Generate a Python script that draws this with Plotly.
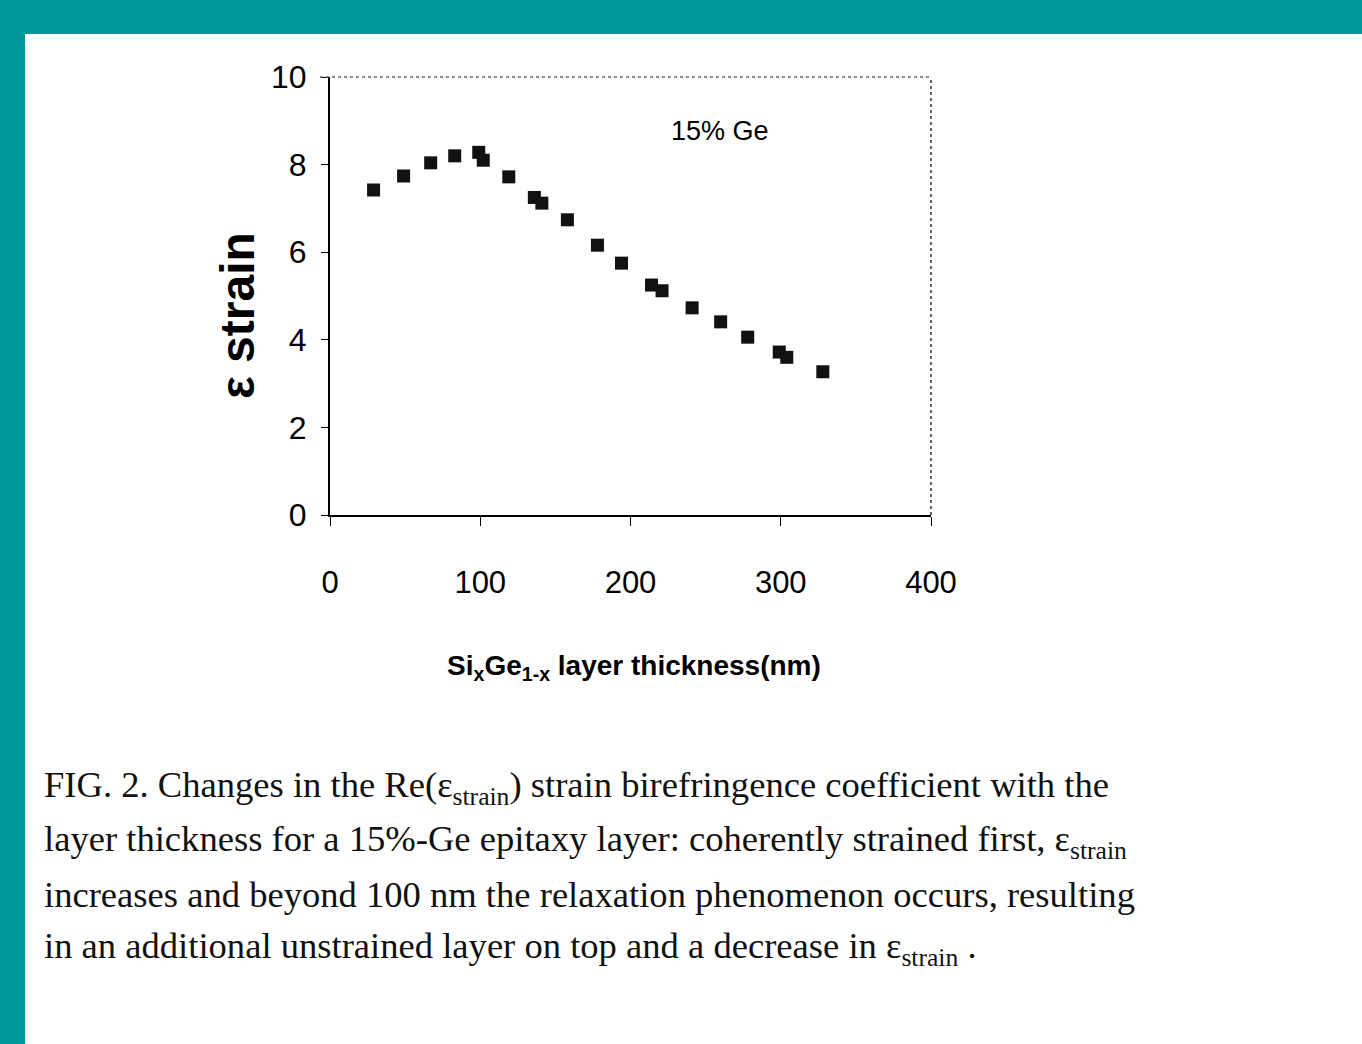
import plotly.graph_objects as go

# Data
thickness_nm = [29, 49, 67, 83, 99, 102, 119, 136, 141, 158, 178, 194, 214, 221, 241, 260, 278, 299, 304, 328]
eps_strain = [7.42, 7.74, 8.04, 8.20, 8.28, 8.10, 7.72, 7.25, 7.12, 6.74, 6.16, 5.75, 5.25, 5.12, 4.73, 4.41, 4.06, 3.72, 3.60, 3.27]
x_ticks = [0, 100, 200, 300, 400]
y_ticks = [0, 2, 4, 6, 8, 10]

W, H = 1362, 1044
L, R, T, B = 330, 931, 77, 515  # plot area in pixels


def px(x):
    return (x - L) / (R - L)


def py(y):
    return (B - y) / (B - T)


SANS = "Liberation Sans, Arial, sans-serif"
SERIF = "Liberation Serif, Times New Roman, DejaVu Serif, serif"
TEAL = "#009999"

fig = go.Figure()
fig.add_trace(go.Scatter(
    x=thickness_nm, y=eps_strain, mode="markers",
    marker=dict(symbol="square", size=13, color="#111111"),
    showlegend=False,
))

fig.update_layout(
    width=W, height=H,
    margin=dict(l=L, r=W - R, t=T, b=H - B),
    paper_bgcolor="white", plot_bgcolor="white",
    xaxis=dict(
        range=[0, 400], tickvals=x_ticks, ticktext=[str(v) for v in x_ticks],
        showgrid=False, zeroline=False, showline=True, linecolor="black", linewidth=2,
        ticks="outside", ticklen=9, tickwidth=1, tickcolor="black",
        ticklabelstandoff=30,
        tickfont=dict(family=SANS, size=31, color="black"),
    ),
    yaxis=dict(
        range=[0, 10], tickvals=y_ticks, ticktext=[str(v) for v in y_ticks],
        showgrid=False, zeroline=False, showline=True, linecolor="black", linewidth=2,
        ticks="outside", ticklen=7, tickwidth=1, tickcolor="black",
        ticklabelstandoff=8,
        tickfont=dict(family=SANS, size=32, color="black"),
    ),
    shapes=[
        # teal frame
        dict(type="rect", xref="paper", yref="paper", x0=px(0), x1=px(W), y0=py(0), y1=py(34),
             fillcolor=TEAL, line=dict(width=0), layer="above"),
        dict(type="rect", xref="paper", yref="paper", x0=px(0), x1=px(25), y0=py(0), y1=py(H),
             fillcolor=TEAL, line=dict(width=0), layer="above"),
        # top and right plot borders (dotted)
        dict(type="line", xref="paper", yref="paper", x0=px(320), x1=1, y0=1, y1=1,
             line=dict(color="#666666", width=1.5, dash="dot")),
        dict(type="line", xref="paper", yref="paper", x0=1, x1=1, y0=0, y1=1,
             line=dict(color="#333333", width=1.5, dash="dot")),
    ],
)

annotations = [
    dict(x=px(720), y=py(131), text="15% Ge", font=dict(family=SANS, size=27, color="black")),
    dict(x=px(237), y=py(316), text="<b>ε strain</b>", textangle=-90,
         font=dict(family=SANS, size=48, color="black")),
    dict(x=px(634), y=py(667), text="<b>Si<sub>x</sub>Ge<sub>1-x</sub> layer thickness(nm)</b>",
         font=dict(family=SANS, size=28, color="black")),
]

caption = [
    (787, "FIG. 2. Changes in the Re(ε<sub>strain</sub>) strain birefringence coefficient with the"),
    (841, "layer thickness for a 15%-Ge epitaxy layer: coherently strained first, ε<sub>strain</sub>"),
    (894, "increases and beyond 100 nm the relaxation phenomenon occurs, resulting"),
    (948, "in an additional unstrained layer on top and a decrease in ε<sub>strain</sub> ."),
]
for yy, txt in caption:
    annotations.append(dict(x=px(42), y=py(yy), xanchor="left", yanchor="middle", text=txt,
                            font=dict(family=SERIF, size=36.6, color="#111111")))

for a in annotations:
    a.setdefault("xref", "paper")
    a.setdefault("yref", "paper")
    a.setdefault("xanchor", "center")
    a.setdefault("yanchor", "middle")
    a.setdefault("showarrow", False)
    fig.add_annotation(**a)

fig.write_html("out.html", config={"displayModeBar": False},
               post_script="document.body.style.margin='0';document.body.style.overflow='hidden';")
